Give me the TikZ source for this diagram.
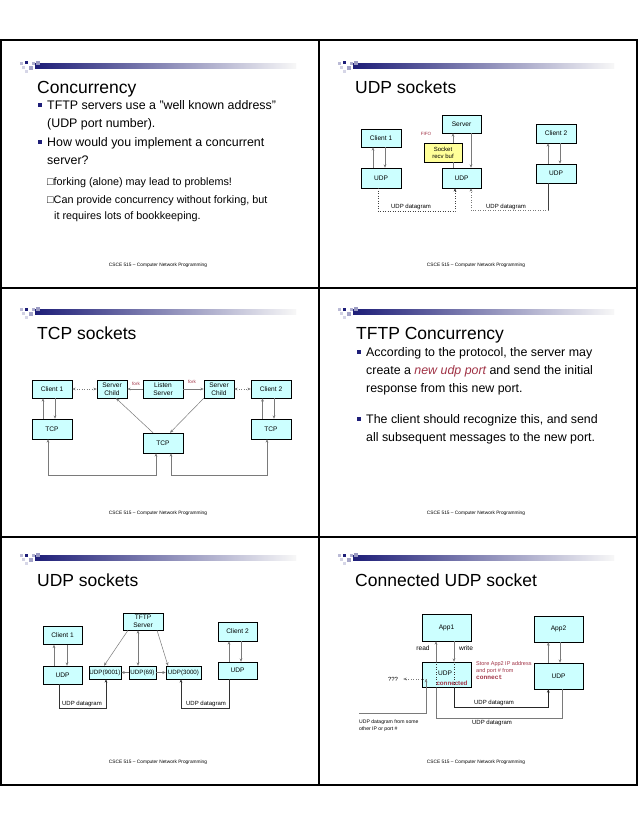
\documentclass[tikz,border=0pt]{standalone}
\usepackage{fontspec}
\setmainfont{Liberation Sans}
\setmonofont{Liberation Mono}
\usetikzlibrary{arrows.meta,positioning}
\definecolor{boxcyan}{HTML}{CCFFFF}
\definecolor{bufyellow}{HTML}{FFFF99}
\definecolor{navy}{HTML}{1E1E78}
\definecolor{lineg}{HTML}{7A7A7A}
\definecolor{maroon}{HTML}{A03245}

\begin{document}
\begin{tikzpicture}[
  x=1pt,y=-1pt,
  >={Stealth[length=3.4pt,width=2.8pt]},
  box/.style={draw,line width=0.5pt,fill=boxcyan,inner sep=0pt,align=center,font=\fontsize{6.6}{7.6}\selectfont},
  link/.style={draw=lineg,line width=0.5pt,->},
  dlink/.style={link,dotted},
  title/.style={anchor=base west,inner sep=0pt,font=\fontsize{17.5}{20}\selectfont},
  txt/.style={anchor=base west,inner sep=0pt,font=\fontsize{12.4}{15}\selectfont},
  subtxt/.style={anchor=base west,inner sep=0pt,font=\fontsize{10.8}{13}\selectfont},
  small/.style={inner sep=0pt,font=\fontsize{6}{7}\selectfont},
  tiny/.style={inner sep=0pt,font=\fontsize{4.6}{6}\selectfont},
  bul/.style={fill=navy,inner sep=0pt,minimum size=4.3pt},
  foot/.style={inner sep=0pt,font=\fontsize{4.8}{6}\selectfont}
]
\useasboundingbox[fill=white] (0,0) rectangle (638,826);

% slide frames
\draw[line width=1.5pt] (1,40) rectangle (637,785);
\draw[line width=1.5pt] (319,40) -- (319,785);
\draw[line width=1.5pt] (1,288) -- (637,288);
\draw[line width=1.5pt] (1,537) -- (637,537);

% header bars and footers
\foreach \ox/\hy/\fy in {1/66/265, 319/66/265, 1/312/513, 319/312/513, 1/558/762, 319/558/762} {
  \shade[left color=navy,right color=gray!6] (\ox+34,\hy-2.8) rectangle (\ox+295,\hy+2.8);
  \fill[navy!30] (\ox+19,\hy-4) rectangle ++(3,3);
  \fill[navy] (\ox+24,\hy-4.5) rectangle ++(3,3);
  \fill[navy!35] (\ox+31,\hy-4) rectangle ++(3,3);
  \fill[navy!45] (\ox+35,\hy-5) rectangle ++(4,4);
  \fill[navy!20] (\ox+21,\hy) rectangle ++(3,3);
  \fill[navy!40] (\ox+28,\hy) rectangle ++(4,4);
  \fill[navy!18] (\ox+24,\hy+4) rectangle ++(3,3);
  \node[foot] (foot\ox\hy) at (\ox+157,\fy) {CSCE 515 – Computer Network Programming};
}

% slide 1: concurrency
\begin{scope}[shift={(1,40)}]
\node[title] (t1) at (36,54) {Concurrency};
\node[bul] (q1a) at (39,65) {};
\node[txt] (l1a) at (46,70) {TFTP servers use a "well known address"};
\node[txt] (l1b) at (46,88) {(UDP port number).};
\node[bul] (q1b) at (39,102) {};
\node[txt] (l1c) at (46,106.5) {How would you implement a concurrent};
\node[txt] (l1d) at (46,124.5) {server?};
\node[subtxt] (s1a) at (46,145.5) {□forking (alone) may lead to problems!};
\node[subtxt] (s1b) at (46,164) {□Can provide concurrency without forking, but};
\node[subtxt] (s1c) at (53,179) {it requires lots of bookkeeping.};
\end{scope}

% slide 2: udp sockets
\begin{scope}[shift={(319,40)}]
\node[title] (t2) at (36,54) {UDP sockets};
\node[box,minimum width=39pt,minimum height=18pt] (srv2) at (142.5,84) {Server};
\node[box,minimum width=40pt,minimum height=18pt] (cl2a) at (62,98) {Client 1};
\node[box,minimum width=40pt,minimum height=19pt] (cl2b) at (237,93.5) {Client 2};
\node[box,minimum width=40pt,minimum height=20pt] (ud2a) at (62,138) {UDP};
\node[box,minimum width=39pt,minimum height=20pt] (ud2m) at (142.5,138) {UDP};
\node[box,minimum width=40pt,minimum height=19pt] (ud2b) at (237,133.5) {UDP};
\node[box,fill=bufyellow,minimum width=38pt,minimum height=19pt,font=\fontsize{6}{7}\selectfont] (buf2) at (124,112.5) {Socket\\recv buf};
\node[tiny,text=maroon] (fifo2) at (107,94) {FIFO};

\draw[link] ([xshift=-8pt]ud2a.north) -- ([xshift=-8pt]cl2a.south);
\draw[link] ([xshift=4pt]cl2a.south) -- ([xshift=4pt]ud2a.north);
\draw[link] ([xshift=-8pt]ud2b.north) -- ([xshift=-8pt]cl2b.south);
\draw[link] ([xshift=4pt]cl2b.south) -- ([xshift=4pt]ud2b.north);
\draw[draw=lineg,line width=0.5pt] ([xshift=-8.5pt]ud2m.north) -- ([xshift=-8.5pt]ud2m.north |- buf2.south);
\draw[link] ([xshift=-8.5pt]ud2m.north |- buf2.north) -- ([xshift=-8.5pt]srv2.south);
\draw[link] ([xshift=9.5pt]srv2.south) -- ([xshift=9.5pt]ud2m.north);

\draw[dlink,draw=black!75] ([xshift=-3pt]ud2a.south) -- ++(0,23) -| ([xshift=-6.5pt]ud2m.south);
\draw[draw=black!75,line width=0.5pt] ([xshift=-8pt]ud2b.south) -- ++(0,27.5) coordinate (c2r);
\draw[dlink] (c2r) -| ([xshift=9.5pt]ud2m.south);
\node[small] (dg2a) at (92,166.5) {UDP datagram};
\node[small] (dg2b) at (187,166.5) {UDP datagram};
\end{scope}

% slide 3: tcp sockets
\begin{scope}[shift={(1,288)}]
\node[title] (t3) at (36,51) {TCP sockets};
\node[box,minimum width=40pt,minimum height=18pt] (cl3a) at (51,101) {Client 1};
\node[box,minimum width=30pt,minimum height=18pt] (ch3a) at (111,101) {Server\\Child};
\node[box,minimum width=40pt,minimum height=18pt] (ls3) at (162,101) {Listen\\Server};
\node[box,minimum width=30pt,minimum height=18pt] (ch3b) at (218,101) {Server\\Child};
\node[box,minimum width=40pt,minimum height=18pt] (cl3b) at (270,101) {Client 2};
\node[box,minimum width=40pt,minimum height=20pt] (tc3a) at (51,141) {TCP};
\node[box,minimum width=40pt,minimum height=20pt] (tc3b) at (270,141) {TCP};
\node[box,minimum width=40pt,minimum height=20pt] (tc3m) at (162,155) {TCP};
\node[tiny,text=maroon] (fk3a) at (135,96) {fork};
\node[tiny,text=maroon] (fk3b) at (191,94) {fork};

\draw[dlink,<->] (cl3a) -- (ch3a);
\draw[link] (ls3) -- (ch3a);
\draw[link] (ls3) -- (ch3b);
\draw[dlink,<->] (ch3b) -- (cl3b);
\draw[link] ([xshift=-9pt]tc3a.north) -- ([xshift=-9pt]cl3a.south);
\draw[link] ([xshift=3pt]cl3a.south) -- ([xshift=3pt]tc3a.north);
\draw[link] ([xshift=-8.5pt]tc3b.north) -- ([xshift=-8.5pt]cl3b.south);
\draw[link] ([xshift=3pt]cl3b.south) -- ([xshift=3pt]tc3b.north);
\draw[link] ([xshift=-10pt]tc3m.north) -- ([xshift=4pt]ch3a.south);
\draw[link] (ch3b.south west) -- ([xshift=7pt]tc3m.north);
\draw[link,<->] ([xshift=-4pt]tc3a.south) -- ++(0,36) -| ([xshift=-7pt]tc3m.south);
\draw[link,<->] ([xshift=8pt]tc3m.south) -- ++(0,22) -| ([xshift=-4pt]tc3b.south);
\end{scope}

% slide 4: tftp concurrency
\begin{scope}[shift={(319,288)}]
\node[title] (t4) at (37,51) {TFTP Concurrency};
\node[bul] (q4a) at (40,64) {};
\node[txt] (l4a) at (47,68.5) {According to the protocol, the server may};
\node[txt] (l4b) at (47,86.5) {create a \textcolor{maroon}{\itshape new udp port} and send the initial};
\node[txt] (l4c) at (47,104.5) {response from this new port.};
\node[bul] (q4b) at (40,131) {};
\node[txt] (l4d) at (47,135.5) {The client should recognize this, and send};
\node[txt] (l4e) at (47,153.5) {all subsequent messages to the new port.};
\end{scope}

% slide 5: udp sockets with tftp server
\begin{scope}[shift={(1,537)}]
\node[title] (t5) at (36,49) {UDP sockets};
\node[box,minimum width=40pt,minimum height=17pt] (tf5) at (142,84.5) {TFTP\\Server};
\node[box,minimum width=39pt,minimum height=18pt] (cl5a) at (61.5,98.5) {Client 1};
\node[box,minimum width=39pt,minimum height=19pt] (cl5b) at (236.5,94.5) {Client 2};
\node[box,minimum width=39pt,minimum height=18pt] (ud5a) at (61.5,138) {UDP};
\node[box,minimum width=32pt,minimum height=13pt,font=\fontsize{6.2}{7}\selectfont] (p9001) at (104,135.5) {UDP(9001)};
\node[box,minimum width=27pt,minimum height=13pt,font=\fontsize{6.2}{7}\selectfont] (p69) at (141.5,135.5) {UDP(69)};
\node[box,minimum width=35pt,minimum height=13pt,font=\fontsize{6.2}{7}\selectfont] (p3000) at (182.5,135.5) {UDP(3000)};
\node[box,minimum width=39pt,minimum height=17pt] (ud5b) at (236.5,133.5) {UDP};

\draw[link] ([xshift=-8.5pt]ud5a.north) -- ([xshift=-8.5pt]cl5a.south);
\draw[link] ([xshift=4.5pt]cl5a.south) -- ([xshift=4.5pt]ud5a.north);
\draw[link] ([xshift=-8.5pt]ud5b.north) -- ([xshift=-8.5pt]cl5b.south);
\draw[link] ([xshift=3.5pt]cl5b.south) -- ([xshift=3.5pt]ud5b.north);
\draw[link] ([xshift=-15pt]tf5.south) -- ([xshift=-1pt]p9001.north);
\draw[link,<->] ([xshift=-5pt]tf5.south) -- ([xshift=-5pt]tf5.south |- p69.north);
\draw[link] ([xshift=14pt]tf5.south) -- ([xshift=-15.5pt]p3000.north);
\draw[link] (p69) -- (p9001);
\draw[link] (p69) -- (p3000);
\draw[link,draw=black!80] ([xshift=-3.5pt]ud5a.south) -- ++(0,24) -| ([xshift=1pt]p9001.south);
\draw[link,draw=black!80] ([xshift=-8.5pt]ud5b.south) -- ++(0,29) -| ([xshift=-2.5pt]p3000.south);
\node[small] (dg5a) at (81,167) {UDP datagram};
\node[small] (dg5b) at (205,167) {UDP datagram};
\end{scope}

% slide 6: connected udp socket
\begin{scope}[shift={(319,537)}]
\node[title] (t6) at (36,49) {Connected UDP socket};
\node[box,minimum width=49pt,minimum height=27pt] (app1) at (127.5,90.5) {App1};
\node[box,minimum width=49pt,minimum height=26pt] (app2) at (239.5,92) {App2};
\node[box,minimum width=49pt,minimum height=25pt] (ud6a) at (127.5,137.5) {};
\node[box,minimum width=49pt,minimum height=26pt] (ud6b) at (239.5,139) {UDP};
\node[small,font=\fontsize{6.6}{7.6}\selectfont] (udp6) at (126,136) {UDP};
\node[small,font=\fontsize{6.2}{7}\selectfont\bfseries,text=maroon] (con6) at (133,146.5) {connected};
\node[small,font=\fontsize{6.6}{7.6}\selectfont] (rd6) at (104,111) {read};
\node[small,font=\fontsize{6.6}{7.6}\selectfont] (wr6) at (147,111) {write};
\node[inner sep=0pt,font=\fontsize{5.5}{6.8}\selectfont,text=maroon,anchor=north west,align=left] (st6) at (157,124.5)
  {Store App2 IP address\\and port \# from\\{\ttfamily\bfseries\fontsize{6.2}{7}\selectfont connect}};
\node[small] (qq6) at (74,142) {???};
\node[inner sep=0pt,font=\fontsize{5.1}{6.6}\selectfont,anchor=north west,align=left] (ot6) at (40,182.5) {UDP datagram from some\\other IP or port \#};
\coordinate (oip6) at (40,176);

\draw[link] ([xshift=-10.2pt]ud6b.north) -- ([xshift=-10.2pt]app2.south);
\draw[link] ([xshift=1.5pt]app2.south) -- ([xshift=1.5pt]ud6b.north);
\draw[link] ([xshift=7.5pt]app1.south) -- ([xshift=7.5pt]ud6a.north);
\draw[dotted,draw=black!80,line width=0.5pt] ([xshift=7.5pt]ud6a.north) -- ([xshift=7.5pt]ud6a.south);
\draw[link,draw=black!85,line width=0.9pt] ([xshift=7.5pt]ud6a.south) -- ++(0,20) -| ([xshift=-10.2pt]ud6b.south);
\draw[draw=lineg,line width=0.5pt] ([xshift=3.5pt]ud6b.south) -- ++(0,29) coordinate (c6r) -| ([xshift=-10.5pt]ud6a.south);
\draw[dotted,draw=black!80,line width=0.5pt] ([xshift=-10.5pt]ud6a.south) -- ([xshift=-10.5pt]ud6a.north);
\draw[link] ([xshift=-10.5pt]ud6a.north) -- ([xshift=-10.5pt]app1.south);
\draw[link] (oip6) -| ([xshift=-20.5pt,yshift=-4.5pt]ud6a.center);
\draw[dlink,shorten >=5pt] ([xshift=-20.5pt,yshift=-4.5pt]ud6a.center) -- (qq6);
\node[small] (dg6a) at (175,166) {UDP datagram};
\node[small] (dg6b) at (173,186) {UDP datagram};
\end{scope}
\end{tikzpicture}
\end{document}
